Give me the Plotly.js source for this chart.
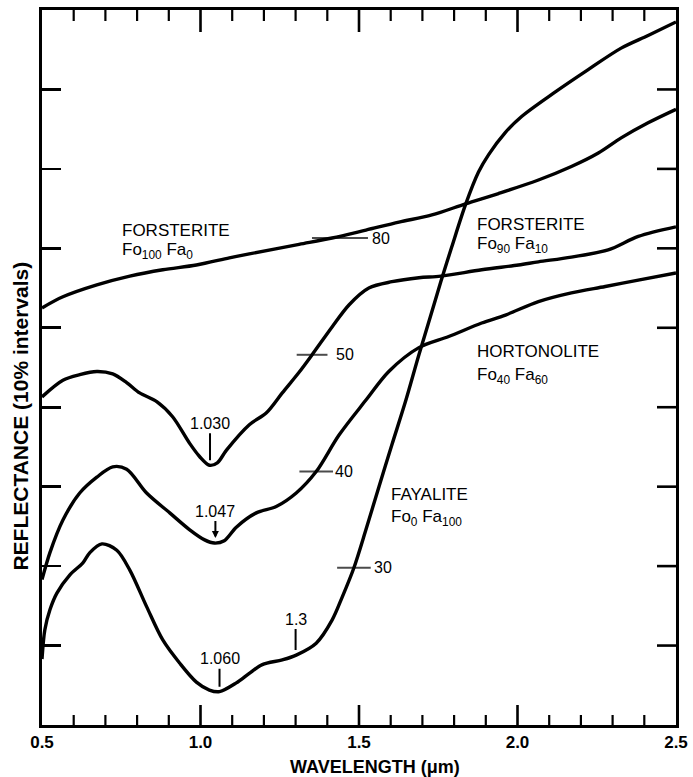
<!DOCTYPE html>
<html>
<head>
<meta charset="utf-8">
<script src="https://cdn.plot.ly/plotly-3.0.1.min.js"></script>
<style>html,body{margin:0;padding:0;background:#fff;}#chart{width:693px;height:777px;}</style>
</head>
<body>
<div id="chart"></div>
<script>
// Wavelength (micrometres) and relative reflectance (%; 10% per tick interval)
const fo100Wl = [0.5,0.566,0.673,0.777,0.881,0.987,1.091,1.154,1.311,1.415,1.522,1.626,1.730,1.836,1.940,2.066,2.170,2.255,2.327,2.412,2.5];
const fo100R  = [52.5,53.9,55.4,56.5,57.3,57.9,58.8,59.3,60.5,61.3,62.3,63.3,64.2,65.6,66.9,68.6,70.3,72.0,73.9,75.8,77.5];

const fo90Wl = [0.5,0.566,0.619,0.673,0.723,0.767,0.808,0.862,0.912,0.965,0.997,1.028,1.053,1.082,1.154,1.208,1.258,1.311,1.352,1.415,1.469,1.531,1.604,1.689,1.758,1.887,2.003,2.066,2.170,2.286,2.381,2.5];
const fo90R  = [41.3,43.4,44.1,44.5,44.2,43.1,41.8,40.7,38.8,35.5,33.8,32.7,33.0,34.6,37.8,39.3,41.8,44.4,46.6,50.1,52.9,55.0,55.8,56.3,56.5,57.3,57.9,58.3,58.9,59.8,61.5,62.7];

const hortWl = [0.5,0.525,0.566,0.619,0.673,0.723,0.767,0.830,0.903,0.965,1.013,1.044,1.075,1.113,1.176,1.239,1.302,1.365,1.437,1.522,1.594,1.689,1.783,1.887,1.962,2.066,2.170,2.277,2.381,2.5];
const hortR  = [18.3,21.7,25.8,29.2,31.2,32.5,32.2,29.2,26.7,24.6,23.3,22.9,23.2,24.9,26.7,27.5,29.2,31.9,36.5,40.9,44.5,47.5,48.9,50.6,51.6,53.3,54.4,55.2,56.0,56.9];

const fayWl = [0.5,0.509,0.525,0.547,0.588,0.629,0.651,0.689,0.736,0.777,0.830,0.881,0.934,0.987,1.028,1.060,1.113,1.154,1.195,1.258,1.302,1.365,1.415,1.447,1.484,1.522,1.563,1.604,1.648,1.689,1.726,1.758,1.792,1.836,1.877,1.909,1.962,2.013,2.116,2.223,2.327,2.412,2.5];
const fayR  = [8.3,12.0,14.5,16.6,18.9,20.4,21.7,22.8,22.0,19.5,14.9,10.7,7.8,5.4,4.4,4.2,5.3,6.5,7.6,8.2,8.8,10.3,13.2,16.1,19.8,24.6,30.0,35.3,40.9,46.6,51.5,55.8,60.1,65.5,69.6,71.8,74.6,76.6,79.6,82.5,85.2,86.8,88.5];

// Absolute-reflectance marks on the curves
const markWl   = [1.44, 1.352, 1.365, 1.484];
const markR    = [61.3, 46.6, 31.9, 19.8];
const markText = ['80', '50', '40', '30'];

// Band centres
const bandWl   = [1.030, 1.047, 1.060, 1.3];
const bandR    = [32.7, 22.9, 4.2, 8.8];
const bandText = ['1.030', '1.047', '1.060', '1.3'];

// Axis tick positions
const xMajorTicks = [1.0, 1.5, 2.0];
const xMinorTicks = [0.6,0.7,0.8,0.9,1.1,1.2,1.3,1.4,1.6,1.7,1.8,1.9,2.1,2.2,2.3,2.4];
const yTicks = [10, 20, 30, 40, 50, 60, 70, 80];

const Y_MIN = 0, Y_MAX = 90;
const PX_PER_UNIT = (777 - 10 - 52) / (Y_MAX - Y_MIN);   // plot height / y-range

const FONT = 'Liberation Sans, Arial, sans-serif';
const lineStyle = {color: '#000', width: 3.4, shape: 'spline', smoothing: 0.9};

// Tick-mark polylines for the bottom and top frame (inward), built from the tick arrays
function tickTrace(ticks, lenPx, width) {
  const tx = [], ty = [];
  const d = lenPx / PX_PER_UNIT;
  ticks.forEach(v => {
    tx.push(v, v, null, v, v, null);
    ty.push(Y_MIN, Y_MIN + d, null, Y_MAX, Y_MAX - d * 1.1, null);
  });
  return {x: tx, y: ty, mode: 'lines', line: {color: '#000', width: width}, hoverinfo: 'skip', cliponaxis: false};
}

const traces = [
  {x: fo100Wl, y: fo100R, mode: 'lines', line: lineStyle, hoverinfo: 'skip'},
  {x: fo90Wl, y: fo90R, mode: 'lines', line: lineStyle, hoverinfo: 'skip'},
  {x: hortWl, y: hortR, mode: 'lines', line: lineStyle, hoverinfo: 'skip'},
  {x: fayWl, y: fayR, mode: 'lines', line: lineStyle, hoverinfo: 'skip'},
  {x: markWl, y: markR, mode: 'markers', hoverinfo: 'skip',
   marker: {symbol: 'line-ew', size: [40, 22, 24, 24], color: '#000', line: {color: '#000', width: 2}}},
  tickTrace(xMajorTicks, 20, 2.6),
  tickTrace(xMinorTicks, 10, 2.2)
];

const annotations = [];
const labelShift = [30, 22, 17, 18];
markWl.forEach((w, i) => annotations.push({
  x: w, y: markR[i], text: markText[i], showarrow: false, xanchor: 'left', yanchor: 'middle',
  xshift: labelShift[i], font: {family: FONT, size: 16, color: '#000'}
}));
const bandAy = [-42, -32, -33, -36];
bandWl.forEach((w, i) => annotations.push({
  x: w, y: bandR[i], text: bandText[i], showarrow: true, ax: 0, ay: bandAy[i],
  arrowhead: i === 1 ? 2 : 0, arrowsize: 0.7, arrowwidth: 2, arrowcolor: '#000', standoff: 5,
  font: {family: FONT, size: 16, color: '#000'}
}));
function lbl(x, y, t) {
  return {x: x, y: y, text: t, showarrow: false, xanchor: 'left', yanchor: 'top',
          font: {family: FONT, size: 17, color: '#000'}};
}
annotations.push(lbl(0.745, 63.7, 'FORSTERITE'));
annotations.push(lbl(0.745, 61.3, 'Fo<sub>100</sub> Fa<sub>0</sub>'));
annotations.push(lbl(1.865, 64.5, 'FORSTERITE'));
annotations.push(lbl(1.865, 62.0, 'Fo<sub>90</sub> Fa<sub>10</sub>'));
annotations.push(lbl(1.865, 48.4, 'HORTONOLITE'));
annotations.push(lbl(1.865, 45.6, 'Fo<sub>40</sub> Fa<sub>60</sub>'));
annotations.push(lbl(1.594, 30.5, 'FAYALITE'));
annotations.push(lbl(1.594, 27.7, 'Fo<sub>0</sub> Fa<sub>100</sub>'));
annotations.push({xref: 'paper', yref: 'paper', x: 0.525, y: -0.059, text: 'WAVELENGTH (\u03bcm)',
  showarrow: false, xanchor: 'center', yanchor: 'middle',
  font: {family: FONT, size: 18, color: '#000', weight: 'bold'}});
annotations.push({xref: 'paper', yref: 'paper', x: -0.034, y: 0.432, text: 'REFLECTANCE (10% intervals)',
  showarrow: false, textangle: -90, xanchor: 'center', yanchor: 'middle',
  font: {family: FONT, size: 21, color: '#000', weight: 'bold'}});

// Inward tick marks on the right frame
const shapes = yTicks.map(v => ({type: 'line', xref: 'paper', yref: 'y', xsizemode: 'pixel', xanchor: 1,
  x0: 0, x1: -19, y0: v, y1: v, line: {color: '#000', width: 2.6}}));

const layout = {
  width: 693, height: 777,
  margin: {l: 42, r: 17, t: 10, b: 52},
  showlegend: false,
  xaxis: {
    range: [0.5, 2.5], dtick: 0.5, ticks: '',
    showline: true, linewidth: 3, linecolor: '#000', mirror: true,
    showgrid: false, zeroline: false,
    tickfont: {family: FONT, size: 17, color: '#000', weight: 'bold'},
    tickformat: '.1f'
  },
  yaxis: {
    range: [Y_MIN, Y_MAX], dtick: 10,
    ticks: 'inside', ticklen: 19, tickwidth: 2.6, tickcolor: '#000', showticklabels: false,
    showline: true, linewidth: 3, linecolor: '#000', mirror: true,
    showgrid: false, zeroline: false
  },
  shapes: shapes,
  annotations: annotations
};

Plotly.newPlot('chart', traces, layout, {staticPlot: true});
</script>
</body>
</html>
